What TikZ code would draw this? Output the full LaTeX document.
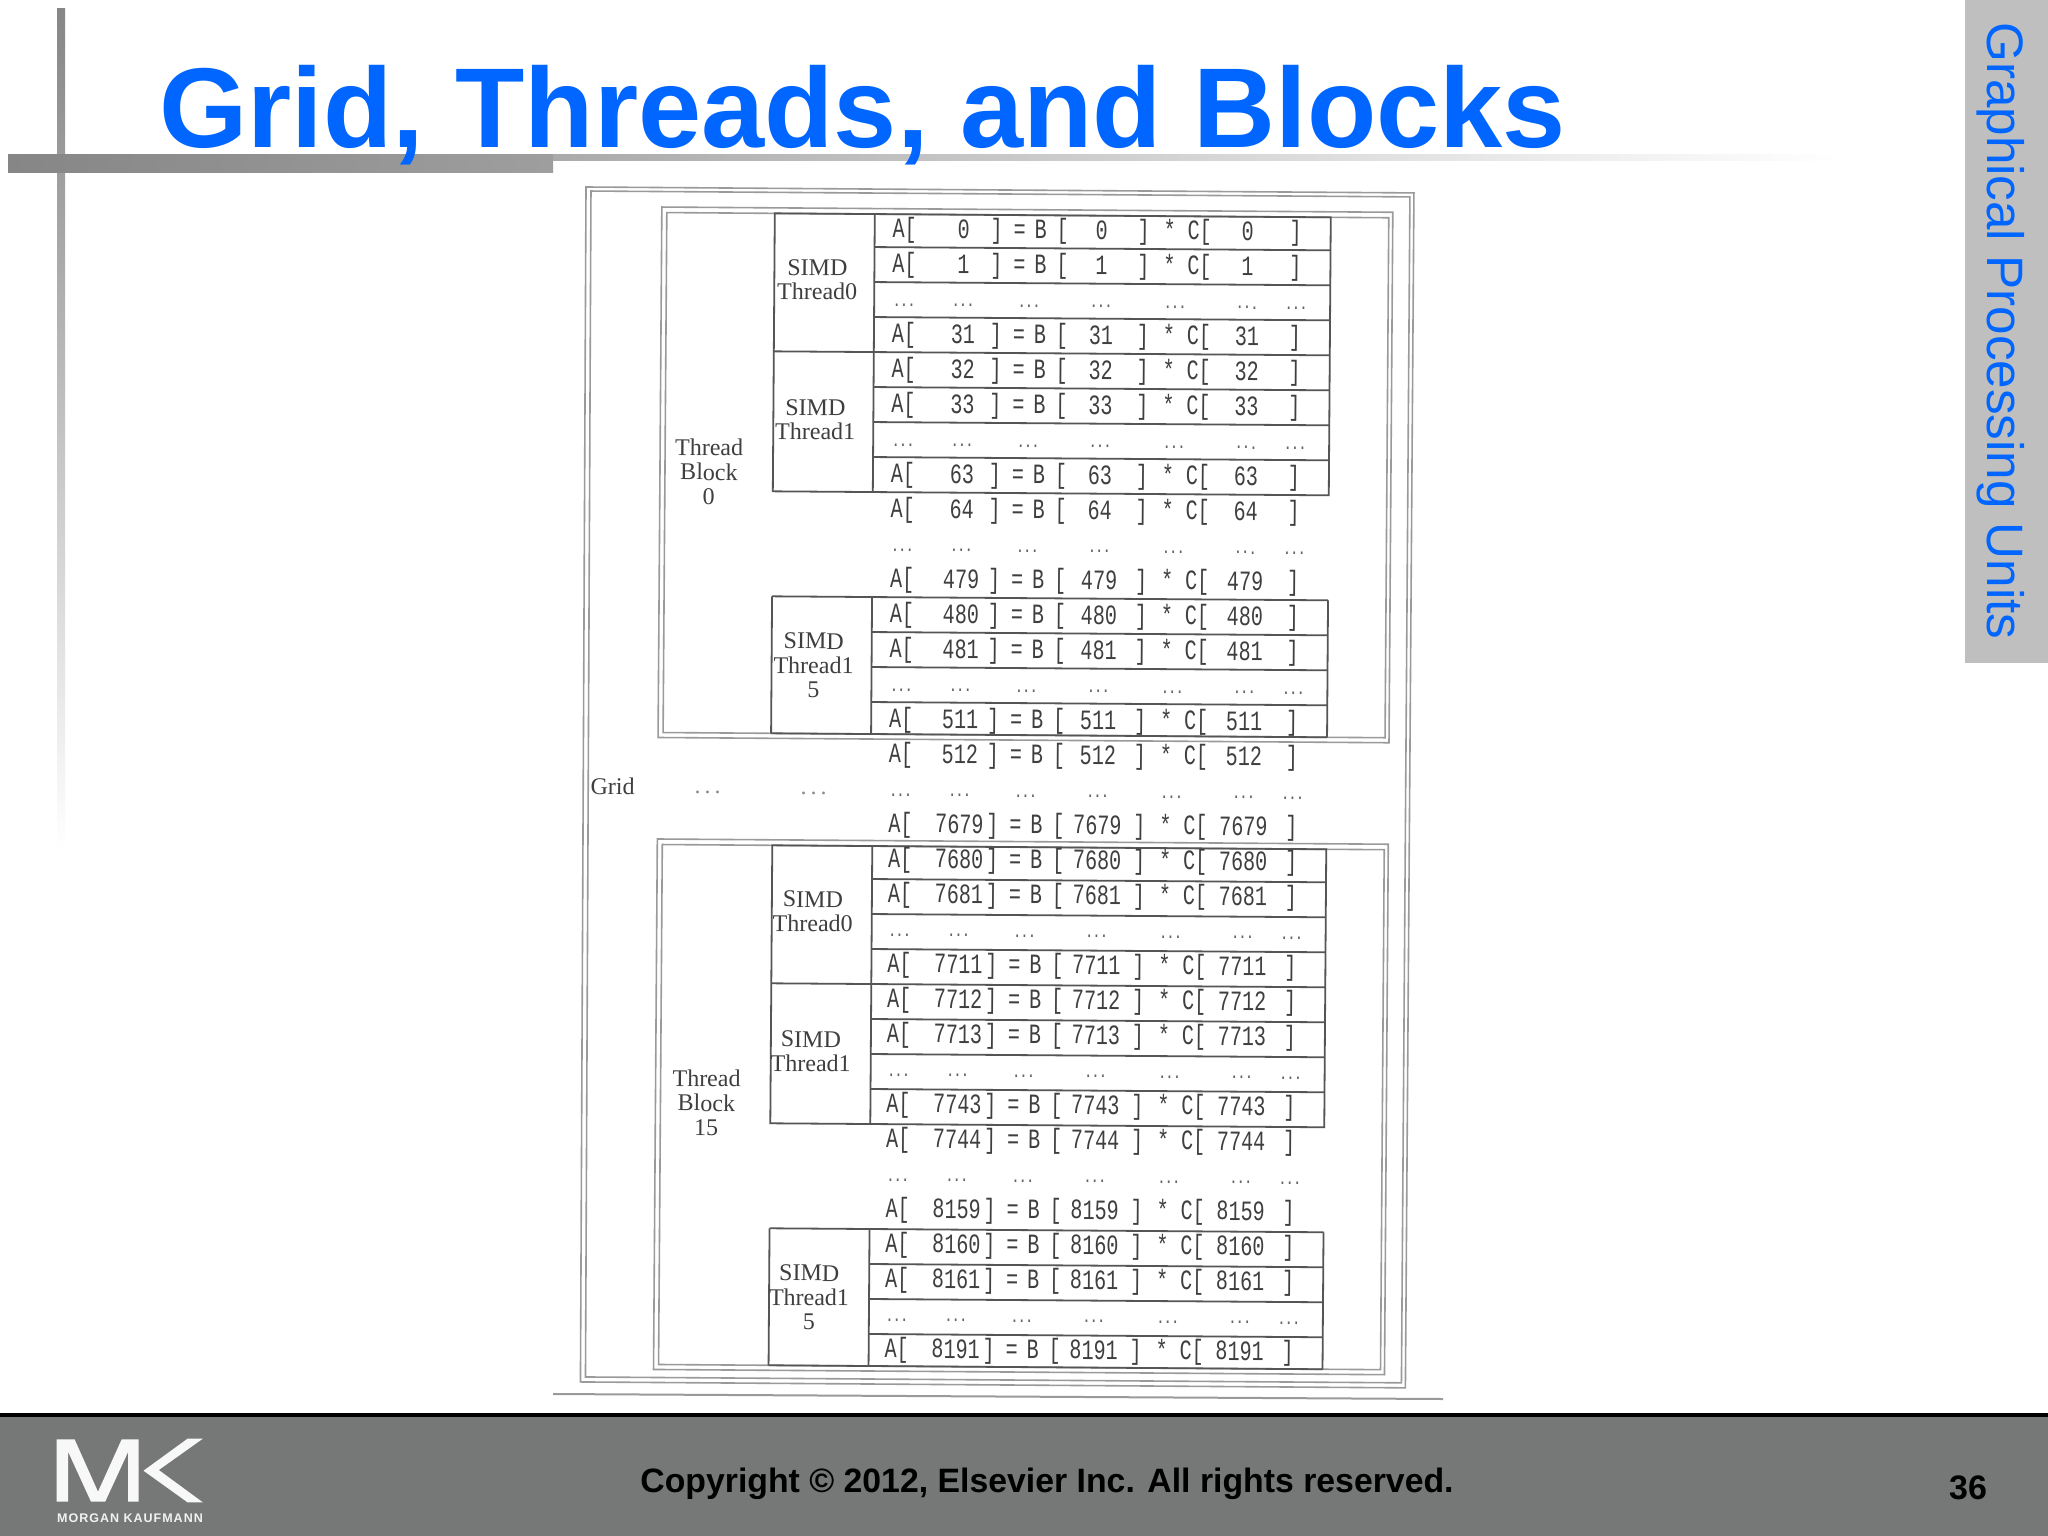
\documentclass[tikz,border=0pt]{standalone}
\usepackage{fontspec}
\setmainfont{Liberation Serif}
\setsansfont{Liberation Sans}
\setmonofont{Liberation Mono}
\newfontfamily\logofont[LetterSpace=8]{Liberation Sans Bold}
\definecolor{titleblue}{HTML}{0066FF}
\definecolor{footgray}{HTML}{757876}
\definecolor{tabgray}{HTML}{BFBFC0}
\definecolor{barback}{HTML}{868686}
\definecolor{scanink}{HTML}{3F3F3F}
\definecolor{scanline}{HTML}{555555}
\definecolor{scanframe}{HTML}{9A9A9A}
\tikzset{
    cell/.style = {font=\ttfamily\fontsize{28}{28}\selectfont, text=scanink, inner sep=0pt, text height=15pt, text depth=5pt, transform shape, xscale=0.72},
    gap/.style = {font=\ttfamily\bfseries\fontsize{17}{17}\selectfont, text=scanink!80, inner sep=0pt, transform shape, xscale=0.72},
    label/.style = {font=\rmfamily\fontsize{24}{24.5}\selectfont, text=scanink, inner sep=0pt, align=center, transform shape},
    frame/.style = {scanframe, line width=1.6pt},
    rule/.style = {scanline, line width=1.8pt}
}
\begin{document}
\begin{tikzpicture}[x=1pt,y=-1pt]
    \useasboundingbox (0,0) rectangle (2048,1536);
    \fill[white] (0,0) rectangle (2048,1536);
    \shade[top color=barback, bottom color=white] (57,9) rectangle (65,850);
    \shade[left color=barback, right color=barback!80] (8,155) rectangle (553,172);
    \shade[left color=barback!70, right color=white] (553,155) rectangle (1840,161);
    \fill[tabgray] (1965,0) rectangle (2048,663);
    \fill[black] (0,1413) rectangle (2048,1417);
    \fill[footgray] (0,1417) rectangle (2048,1536);
    \draw[scanframe, line width=2pt] (553,1394) -- (1443,1399);

    \node[anchor=base west, inner sep=0pt, text=titleblue, font=\sffamily\bfseries\fontsize{113.5}{113.5}\selectfont] (title) at (159,147) {Grid, Threads, and Blocks};
    \node[anchor=base west, inner sep=0pt, rotate=-90, text=titleblue, font=\sffamily\fontsize{51.2}{51.2}\selectfont] (side) at (1987,22) {Graphical Processing Units};
    \node[anchor=base, inner sep=0pt, font=\sffamily\bfseries\fontsize{33.8}{33.8}\selectfont] (copy) at (1047,1492) {Copyright © 2012, Elsevier Inc. All rights reserved.};
    \node[anchor=base, inner sep=0pt, font=\sffamily\bfseries\fontsize{34}{34}\selectfont] (page) at (1968,1499) {36};

    \fill[white!95!footgray] (56.6,1439.3) -- (74.6,1439.3) -- (98,1491.7) -- (121.7,1439.3) -- (138.5,1439.3) -- (138.5,1501.7) -- (128.2,1501.7) -- (128.2,1451.7) -- (105.2,1501.7) -- (91,1501.7) -- (68.1,1451.7) -- (68.1,1501.7) -- (56.6,1501.7) -- cycle;
    \fill[white!95!footgray] (202.8,1438.7) -- (187.5,1438.7) -- (143.5,1470.7) -- (187.5,1502.3) -- (202.8,1502.3) -- (158.8,1470) -- cycle;
    \node[anchor=base west, inner sep=0pt, text=white!90!footgray, font=\logofont\fontsize{12.5}{12.5}\selectfont] (press) at (57,1522) {MORGAN KAUFMANN};

    \begin{scope}[shift={(586,187)},rotate=-0.41]
        \draw[frame] (0,0) -- (828,0) -- (828,1195) -- (3,1195) -- cycle;
        \draw[frame] (5,4) -- (824,4) -- (824,1190) -- (8,1190) -- cycle;
        \foreach \d/\s in {0/0,632/2} {
            \draw[frame] (76,{19.5+\d}) rectangle (807,{550+\d});
            \draw[frame] (81,{25+\d}) rectangle (803,{545+\d});
            \draw[rule] (189+\s,{25+\d}) -- (189+\s,{303+\d}) -- (745,{303+\d}) -- (745,{25+\d}) -- cycle;
            \draw[rule] (189+\s,{408+\d}) -- (189+\s,{545+\d});
            \draw[rule] (745,{408+\d}) -- (745,{545+\d});
            \draw[rule] (189+\s,{408+\d}) -- (745,{408+\d});
            \draw[rule] (189+\s,{545+\d}) -- (745,{545+\d});
            \draw[rule] (289+\s,{25+\d}) -- (289+\s,{303+\d});
            \draw[rule] (289+\s,{408+\d}) -- (289+\s,{545+\d});
            \draw[rule] (189+\s,{163+\d}) -- (745,{163+\d});
            \foreach \k in {1,2,3,5,6,7,12,13,14} {
                \draw[rule] (289+\s,{23+35*\k+\d}) -- (745,{23+35*\k+\d});
            }
        }
        \foreach \k/\n in {0/0,1/1,3/31,4/32,5/33,7/63,8/64,10/479,11/480,12/481,14/511,15/512,17/7679,18/7680,19/7681,21/7711,22/7712,23/7713,25/7743,26/7744,28/8159,29/8160,30/8161,32/8191} {
            \node[cell] (a\k) at (319,{43.5+35*\k}) {A[};
            \node[cell] (an\k) at (378,{43.5+35*\k}) {\n};
            \node[cell] (ab\k) at (411,{43.5+35*\k}) {]};
            \node[cell] (eq\k) at (434,{43.5+35*\k}) {=};
            \node[cell] (b\k) at (455,{43.5+35*\k}) {B};
            \node[cell] (bo\k) at (477,{43.5+35*\k}) {[};
            \node[cell] (bn\k) at (516,{43.5+35*\k}) {\n};
            \node[cell] (bb\k) at (558,{43.5+35*\k}) {]};
            \node[cell] (st\k) at (584,{43.5+35*\k}) {*};
            \node[cell] (c\k) at (614,{43.5+35*\k}) {C[};
            \node[cell] (cn\k) at (662,{43.5+35*\k}) {\n};
            \node[cell] (cb\k) at (710,{43.5+35*\k}) {]};
        }
        \foreach \k in {2,6,9,13,16,20,24,27,31} {
            \foreach \u [count=\c] in {319,378,444,516,590,662,711} {
                \node[gap] (g\k-\c) at (\u,{46+35*\k}) {...};
            }
        }
        \node[label] (simd00) at (232,91) {SIMD\\Thread0};
        \node[label] (simd01) at (231,231) {SIMD\\Thread1};
        \node[label] (simd015) at (231,477) {SIMD\\Thread1\\5};
        \node[label] (simd150) at (232,723) {SIMD\\Thread0};
        \node[label] (simd151) at (231,863) {SIMD\\Thread1};
        \node[label] (simd1515) at (231,1109) {SIMD\\Thread1\\5};
        \node[label] (block0) at (125,284) {Thread\\Block\\0};
        \node[label] (block15) at (127,915) {Thread\\Block\\15};
        \node[label] (grid) at (31,599) {Grid};
        \node[label, text=scanink!60] (dots1) at (126,605) {.\,.\,.};
        \node[label, text=scanink!60] (dots2) at (232,605) {.\,.\,.};
    \end{scope}
\end{tikzpicture}
\end{document}
